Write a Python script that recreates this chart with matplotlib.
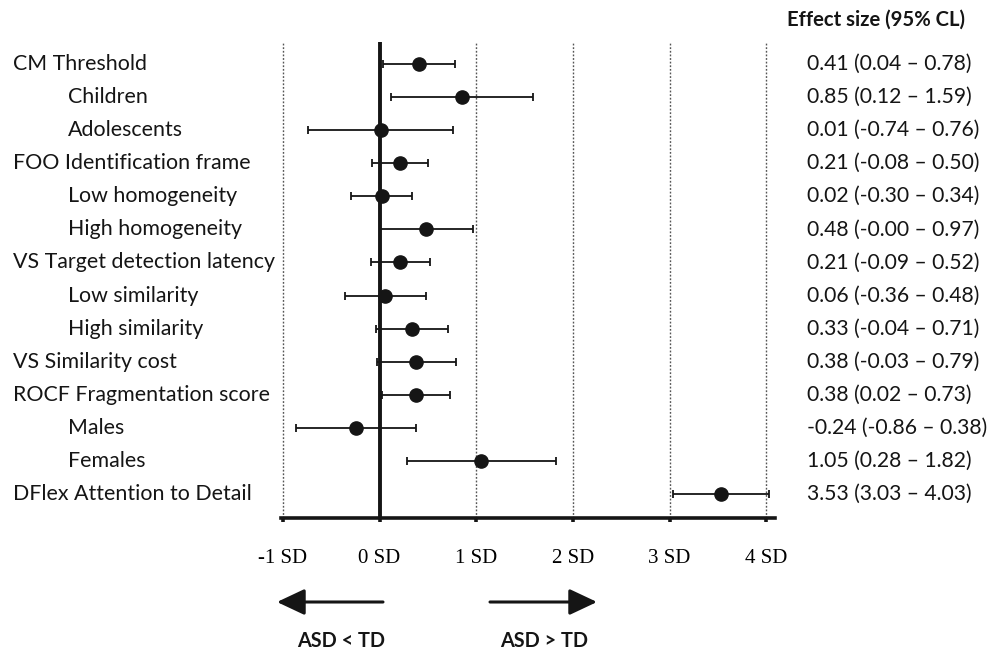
import numpy as np
import matplotlib
matplotlib.use("Agg")
import matplotlib.pyplot as plt
from matplotlib.transforms import blended_transform_factory

# rows, top to bottom
labels = ["CM Threshold", "Children", "Adolescents", "FOO Identification frame",
          "Low homogeneity", "High homogeneity", "VS Target detection latency",
          "Low similarity", "High similarity", "VS Similarity cost",
          "ROCF Fragmentation score", "Males", "Females", "DFlex Attention to Detail"]
indented = [0, 1, 1, 0, 1, 1, 0, 1, 1, 0, 0, 1, 1, 0]
effect = [0.41, 0.85, 0.01, 0.21, 0.02, 0.48, 0.21, 0.06, 0.33, 0.38, 0.38, -0.24, 1.05, 3.53]
ci_low = [0.04, 0.12, -0.74, -0.08, -0.30, -0.0, -0.09, -0.36, -0.04, -0.03, 0.02, -0.86, 0.28, 3.03]
ci_high = [0.78, 1.59, 0.76, 0.50, 0.34, 0.97, 0.52, 0.48, 0.71, 0.79, 0.73, 0.38, 1.82, 4.03]

ticks = [-1, 0, 1, 2, 3, 4]
tick_labels = ["-1 SD", "0 SD", "1 SD", "2 SD", "3 SD", "4 SD"]

W, H = 1003, 653
SANS = "Lato"
INK = "#151515"

fig = plt.figure(figsize=(W / 100, H / 100), dpi=100)
# axes box in pixels: x 281..775, y 42..518 (from top)
ax = fig.add_axes([281 / W, (H - 518) / H, 494 / W, 476 / H])

n = len(labels)
rows = np.arange(n)
ax.set_xlim(-1.02, 4.09)
# row 0 at ~64px, last row at ~494px
unit = (494 - 64) / (n - 1)
ax.set_ylim((n - 1) + (518 - 494) / unit, -(64 - 42) / unit)

for x in [-1, 1, 2, 3, 4]:
    ax.axvline(x, color="#555555", lw=1, ls=(0, (1.3, 1.3)), zorder=1)
ax.axvline(0, color=INK, lw=2.8, zorder=2)

eff = np.array(effect)
err = np.vstack([eff - np.array(ci_low), np.array(ci_high) - eff])
ax.errorbar(eff, rows, xerr=err, fmt="o", color=INK, ms=9.5, elinewidth=1.3,
            capsize=3, capthick=1.3, zorder=3)

for s in ["top", "left", "right"]:
    ax.spines[s].set_visible(False)
ax.spines["bottom"].set_linewidth(2.6)
ax.spines["bottom"].set_color(INK)
ax.set_yticks([])
ax.set_xticks(ticks)
ax.set_xticklabels(tick_labels, fontfamily="Liberation Serif", fontsize=15)
ax.tick_params(axis="x", direction="out", length=3, width=2.6, color=INK, pad=19)

# left labels and right effect-size column
tr = blended_transform_factory(fig.transFigure, ax.transData)
for i, lab in enumerate(labels):
    x0 = 68 if indented[i] else 13
    ax.text(x0 / W, i, lab, transform=tr, ha="left", va="center",
            fontfamily=SANS, fontsize=15.4, color=INK, clip_on=False)
    txt = f"{effect[i]:.2f} ({ci_low[i]:.2f} \u2013 {ci_high[i]:.2f})"
    ax.text(807 / W, i, txt, transform=tr, ha="left", va="center",
            fontfamily=SANS, fontsize=15.2, color=INK, clip_on=False)

fig.text(787 / W, 1 - 20 / H, "Effect size (95% CL)", ha="left", va="center",
         fontfamily=SANS, fontsize=14.6, fontweight="bold", color=INK)

# direction arrows
arrow = dict(arrowstyle="-|>,head_length=0.85,head_width=0.4", lw=2.2, color=INK,
             mutation_scale=20, shrinkA=0, shrinkB=0)
ax.annotate("", xy=(277, H - 602), xytext=(383, H - 602), xycoords="figure pixels",
            textcoords="figure pixels", arrowprops=arrow)
ax.annotate("", xy=(597, H - 602), xytext=(490, H - 602), xycoords="figure pixels",
            textcoords="figure pixels", arrowprops=arrow)
fig.text(341 / W, 1 - 641 / H, "ASD < TD", ha="center", va="center",
         fontfamily=SANS, fontsize=14.3, fontweight="bold", color=INK)
fig.text(544 / W, 1 - 641 / H, "ASD > TD", ha="center", va="center",
         fontfamily=SANS, fontsize=14.3, fontweight="bold", color=INK)

fig.savefig("out.png", dpi=100)
